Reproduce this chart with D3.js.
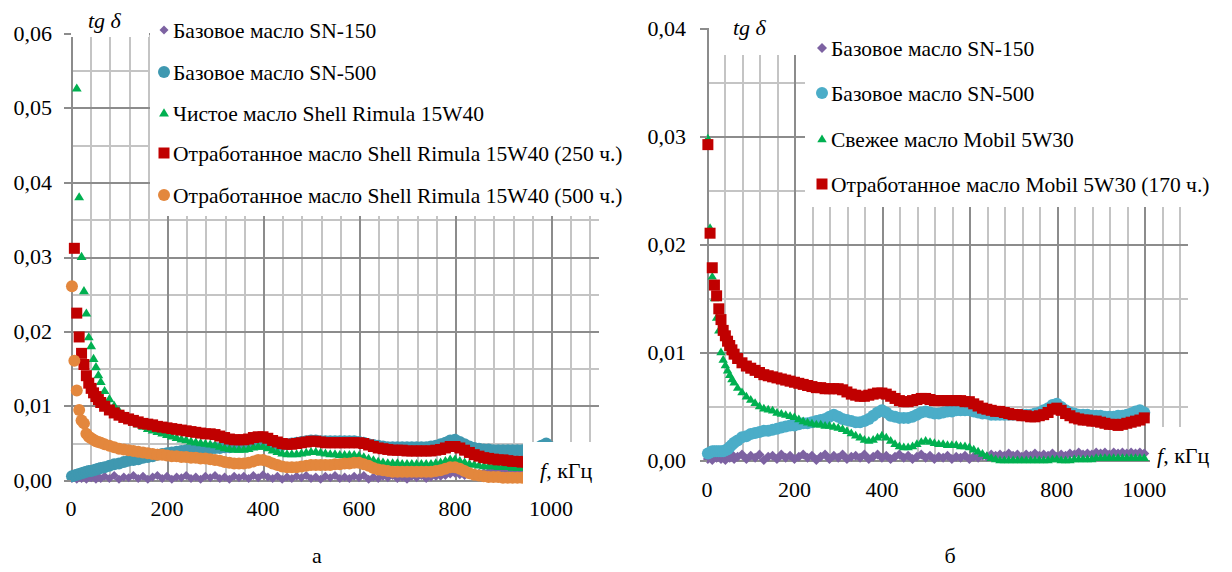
<!DOCTYPE html>
<html><head><meta charset="utf-8">
<script src="https://cdn.jsdelivr.net/npm/d3@7"></script>
<style>body{margin:0;background:#fff}svg{display:block}</style>
</head><body><svg id="c" width="1232" height="572" font-family="'Liberation Serif', Tinos, 'Times New Roman', serif"></svg>
<script>
// ---------- data ----------
const freqA = [2,7,12,17,22,27,32,37,42,47,52,57,62,
70,80,90,100,110,120,130,140,150,160,
170,180,190,200,210,220,230,240,250,260,
270,280,290,300,310,320,330,340,350,360,
370,380,390,400,410,420,430,440,450,460,
470,480,490,500,510,520,530,540,550,560,
570,580,590,600,610,620,630,640,650,660,
670,680,690,700,710,720,730,740,750,760,
770,780,790,800,810,820,830,840,850,860,
870,880,890,900,910,920,930,940,950,960,
970,980,990,1000];
const freqB = freqA.slice();

const namesA = ["Базовое масло SN-150","Базовое масло SN-500","Чистое масло Shell Rimula 15W40",
  "Отработанное масло Shell Rimula 15W40 (250 ч.)","Отработанное масло Shell Rimula 15W40 (500 ч.)"];
const namesB = ["Базовое масло SN-150","Базовое масло SN-500","Свежее масло Mobil 5W30",
  "Отработанное масло Mobil 5W30 (170 ч.)"];

const sn150A = [.0002,.0005,.0001,.0004,.0002,.0006,.0001,.0005,.0003,.0006,.0001,.0004,.0002,
.0005,.0002,.0006,.0001,.0004,.0003,.0006,.0002,.0005,.0001,
.0004,.0006,.0002,.0005,.0001,.0004,.0003,.0006,.0002,.0004,
.0001,.0005,.0003,.0006,.0002,.0004,.0001,.0005,.0003,.0005,
.0002,.0006,.0003,.0007,.0004,.0002,.0005,.0001,.0004,.0002,
.0005,.0003,.0006,.0002,.0004,.0001,.0005,.0003,.0006,.0002,
.0004,.0002,.0005,.0003,.0006,.0001,.0004,.0002,.0005,.0003,
.0006,.0002,.0004,.0001,.0005,.0003,.0006,.0002,.0004,.0005,
.0005,.0006,.0008,.0009,.0007,.0006,.0007,.0008,.0009,.0010,
.0011,.0012,.0013,.0012,.0014,.0013,.0012,.0013,.0012,.0013,
.0012,.0013,.0012,.0013];
const sn500A = [.0005,.0006,.0007,.0008,.0009,.0010,.0011,.0012,.0012,.0013,.0014,.0015,.0016,
.0017,.0019,.0021,.0022,.0024,.0026,.0027,.0028,.0030,.0031,
.0032,.0034,.0035,.0036,.0037,.0038,.0039,.0040,.0040,.0041,
.0041,.0042,.0042,.0043,.0043,.0044,.0044,.0045,.0045,.0046,
.0047,.0048,.0049,.0049,.0048,.0047,.0047,.0047,.0048,.0049,
.0050,.0051,.0052,.0053,.0053,.0052,.0052,.0052,.0052,.0052,
.0052,.0052,.0052,.0051,.0050,.0048,.0047,.0046,.0045,.0044,
.0044,.0044,.0044,.0044,.0044,.0044,.0044,.0044,.0045,.0046,
.0048,.0050,.0053,.0054,.0051,.0048,.0045,.0043,.0042,.0041,
.0041,.0040,.0040,.0040,.0040,.0040,.0040,.0040,.0040,.0041,
.0043,.0046,.0049,.0044];
const shellA = [null,null,.0526,.0380,.0300,.0254,.0224,.0192,.0180,.0163,.0152,.0141,.0132,
.0120,.0109,.0100,.0093,.0087,.0082,.0078,.0075,.0072,.0069,
.0067,.0065,.0063,.0061,.0059,.0057,.0055,.0054,.0052,.0051,
.0050,.0049,.0048,.0047,.0045,.0043,.0042,.0041,.0041,.0041,
.0042,.0044,.0045,.0045,.0043,.0040,.0038,.0036,.0035,.0035,
.0035,.0036,.0037,.0038,.0038,.0037,.0036,.0035,.0035,.0034,
.0034,.0034,.0034,.0033,.0031,.0029,.0027,.0025,.0024,.0023,
.0023,.0023,.0022,.0022,.0022,.0022,.0022,.0022,.0022,.0023,
.0024,.0026,.0028,.0028,.0026,.0024,.0022,.0021,.0020,.0019,
.0019,.0019,.0018,.0018,.0018,.0017,.0017,.0017,.0017,.0017,
.0017,.0017,.0017,.0017];
const used250A = [null,.0311,.0224,.0192,.0170,.0155,.0140,.0130,.0123,.0117,.0112,.0108,.0104,
.0099,.0094,.0090,.0087,.0084,.0082,.0080,.0078,.0076,.0075,
.0074,.0072,.0071,.0070,.0069,.0068,.0067,.0066,.0065,.0064,
.0063,.0062,.0062,.0061,.0059,.0057,.0055,.0054,.0054,.0054,
.0055,.0057,.0058,.0058,.0056,.0053,.0051,.0049,.0048,.0048,
.0049,.0050,.0051,.0052,.0052,.0051,.0050,.0050,.0050,.0050,
.0050,.0050,.0050,.0050,.0049,.0047,.0045,.0043,.0042,.0041,
.0040,.0040,.0040,.0039,.0039,.0039,.0039,.0039,.0039,.0040,
.0041,.0043,.0045,.0045,.0043,.0040,.0037,.0034,.0032,.0030,
.0029,.0028,.0027,.0027,.0026,.0025,.0025,.0024,.0024,.0024,
.0024,.0024,.0024,.0024];
const used500A = [.0260,.0160,.0120,.0094,.0080,.0076,.0062,.0058,.0056,.0054,.0052,.0051,.0050,
.0048,.0046,.0044,.0042,.0041,.0040,.0039,.0038,.0037,.0036,
.0035,.0034,.0034,.0033,.0032,.0032,.0031,.0031,.0030,.0030,
.0029,.0029,.0028,.0027,.0026,.0024,.0023,.0022,.0022,.0022,
.0023,.0025,.0027,.0027,.0025,.0022,.0020,.0018,.0017,.0017,
.0017,.0018,.0019,.0020,.0020,.0020,.0020,.0020,.0021,.0021,
.0022,.0022,.0023,.0023,.0021,.0019,.0016,.0014,.0013,.0012,
.0011,.0011,.0011,.0011,.0011,.0011,.0011,.0011,.0011,.0012,
.0013,.0015,.0017,.0017,.0015,.0012,.0009,.0007,.0006,.0005,
.0004,.0004,.0004,.0003,.0003,.0003,.0003,.0003,.0003,.0003,
.0003,.0003,.0003,.0003];

const sn150B = [.0001,.0003,.0000,.0004,.0002,.0005,.0001,.0003,.0000,.0004,.0002,.0005,.0001,
.0003,.0005,.0001,.0004,.0002,.0005,.0000,.0003,.0004,.0001,
.0005,.0002,.0004,.0001,.0003,.0005,.0002,.0004,.0000,.0003,
.0005,.0001,.0004,.0002,.0005,.0001,.0003,.0004,.0002,.0005,
.0001,.0003,.0005,.0002,.0004,.0001,.0003,.0005,.0002,.0004,
.0001,.0003,.0005,.0002,.0004,.0001,.0003,.0002,.0004,.0001,
.0003,.0002,.0004,.0001,.0003,.0002,.0004,.0003,.0005,.0004,
.0005,.0004,.0006,.0004,.0005,.0003,.0005,.0004,.0006,.0004,
.0005,.0004,.0006,.0003,.0005,.0004,.0006,.0005,.0007,.0005,
.0006,.0005,.0007,.0006,.0007,.0005,.0007,.0006,.0007,.0006,
.0007,.0006,.0007,.0006];
const sn500B = [.0006,.0007,.0008,.0008,.0008,.0008,.0008,.0008,.0009,.0010,.0012,.0014,.0016,
.0018,.0021,.0022,.0024,.0025,.0026,.0027,.0027,.0028,.0029,
.0030,.0031,.0032,.0032,.0033,.0034,.0034,.0035,.0036,.0037,
.0038,.0040,.0042,.0040,.0038,.0037,.0036,.0035,.0035,.0036,
.0038,.0041,.0044,.0046,.0044,.0041,.0040,.0039,.0039,.0039,
.0040,.0042,.0044,.0045,.0044,.0043,.0043,.0044,.0045,.0045,
.0046,.0046,.0046,.0046,.0045,.0044,.0043,.0043,.0042,.0042,
.0042,.0042,.0042,.0042,.0042,.0042,.0042,.0042,.0043,.0044,
.0046,.0048,.0051,.0052,.0049,.0046,.0044,.0043,.0042,.0042,
.0042,.0041,.0041,.0041,.0040,.0040,.0040,.0041,.0041,.0042,
.0043,.0045,.0046,.0044];
const mobilB = [.0298,.0215,.0170,.0150,.0132,.0120,.0100,.0093,.0088,.0083,.0079,.0075,.0072,
.0067,.0063,.0059,.0056,.0053,.0050,.0048,.0047,.0046,.0044,
.0043,.0042,.0041,.0040,.0038,.0036,.0035,.0034,.0033,.0033,
.0032,.0032,.0031,.0030,.0029,.0027,.0025,.0023,.0021,.0019,
.0018,.0019,.0021,.0023,.0021,.0018,.0015,.0013,.0012,.0012,
.0013,.0015,.0017,.0018,.0017,.0016,.0015,.0015,.0014,.0014,
.0014,.0013,.0013,.0012,.0010,.0008,.0006,.0004,.0002,.0001,
.0000,.0000,.0000,.0000,.0000,.0000,.0000,.0000,.0000,.0000,
.0000,.0000,.0001,.0001,.0000,.0000,.0000,.0001,.0001,.0001,
.0001,.0001,.0002,.0002,.0002,.0002,.0002,.0002,.0002,.0002,
.0002,.0002,.0002,.0002];
const used170B = [.0292,.0210,.0178,.0162,.0152,.0140,.0130,.0120,.0115,.0110,.0106,.0102,.0098,
.0094,.0090,.0087,.0085,.0083,.0081,.0079,.0078,.0077,.0076,
.0075,.0074,.0073,.0072,.0071,.0070,.0069,.0068,.0067,.0067,
.0066,.0066,.0066,.0066,.0065,.0063,.0061,.0060,.0059,.0059,
.0060,.0061,.0062,.0062,.0061,.0059,.0057,.0055,.0054,.0054,
.0055,.0056,.0057,.0057,.0056,.0055,.0055,.0055,.0055,.0055,
.0055,.0055,.0054,.0054,.0052,.0050,.0048,.0047,.0046,.0045,
.0045,.0044,.0043,.0042,.0042,.0041,.0041,.0040,.0040,.0041,
.0042,.0044,.0047,.0048,.0046,.0043,.0041,.0039,.0038,.0037,
.0037,.0036,.0036,.0035,.0034,.0033,.0033,.0032,.0033,.0034,
.0035,.0036,.0037,.0039];

const yTicksA = [0,0.01,0.02,0.03,0.04,0.05,0.06];
const yTicksB = [0,0.01,0.02,0.03,0.04];
const xTicks = [0,200,400,600,800,1000];

// ---------- drawing ----------
const svg = d3.select("#c");
const loc = d3.formatLocale({decimal:",",thousands:" ",grouping:[3],currency:["",""]});
const fmt = loc.format(".2f");

const C = {purple:"#7D62A2", tealA:"#3F98B0", tealB:"#4BADC8", green:"#00B050", red:"#C00000", orange:"#E3873D"};

function markerPath(type, s){
  if(type==="diamond") return `M0,${-s}L${s},0L0,${s}L${-s},0Z`;
  if(type==="triangle") return `M0,${-s*1.05}L${s*1.1},${s*0.75}L${-s*1.1},${s*0.75}Z`;
  if(type==="square") return `M${-s},${-s}H${s}V${s}H${-s}Z`;
  return d3.arc()({innerRadius:0,outerRadius:s,startAngle:0,endAngle:2*Math.PI});
}

function drawChart(o){
  const g = svg.append("g");
  const x = d3.scaleLinear().domain([0,1100]).range(o.xr);
  const y = d3.scaleLinear().domain([0,o.ymax]).range(o.yr);
  const minorX = d3.range(40,1100,40), majorX = xTicks.slice(1);
  const minorY = d3.range(0.005,o.ymax+1e-9,0.01), majorY = o.yTicks.slice(1);
  const grid = g.append("g").attr("shape-rendering","crispEdges");
  grid.selectAll(".mx").data(minorX).join("line")
    .attr("x1",d=>Math.round(x(d))+.5).attr("x2",d=>Math.round(x(d))+.5)
    .attr("y1",y(o.ymax)).attr("y2",y(0)).attr("stroke","#c4c4c4").attr("stroke-width",2);
  grid.selectAll(".my").data(minorY).join("line")
    .attr("y1",d=>Math.round(y(d))+.5).attr("y2",d=>Math.round(y(d))+.5)
    .attr("x1",x(0)).attr("x2",x(1100)).attr("stroke","#c4c4c4").attr("stroke-width",2);
  grid.selectAll(".Mx").data(majorX).join("line")
    .attr("x1",d=>Math.round(x(d))+.5).attr("x2",d=>Math.round(x(d))+.5)
    .attr("y1",y(o.ymax)).attr("y2",y(0)).attr("stroke","#8c8c8c").attr("stroke-width",2);
  grid.selectAll(".My").data(majorY).join("line")
    .attr("y1",d=>Math.round(y(d))+.5).attr("y2",d=>Math.round(y(d))+.5)
    .attr("x1",x(0)).attr("x2",x(1100)).attr("stroke","#8c8c8c").attr("stroke-width",2);
  grid.append("line").attr("x1",x(0)).attr("x2",x(1100)).attr("y1",Math.round(y(0))+.5).attr("y2",Math.round(y(0))+.5)
    .attr("stroke","#8c8c8c").attr("stroke-width",2);
  grid.append("line").attr("x1",Math.round(x(0))+.5).attr("x2",Math.round(x(0))+.5).attr("y1",y(o.ymax)).attr("y2",y(0))
    .attr("stroke","#8c8c8c").attr("stroke-width",2);

  o.series.forEach(s=>{
    const pts = s.values.map((v,i)=>({f:o.freq[i],v})).filter(p=>p.v!==null && p.f!==undefined);
    g.append("g").selectAll("path").data(pts).join("path")
      .attr("d",markerPath(s.shape,s.size))
      .attr("transform",p=>`translate(${x(p.f)},${y(p.v)})`)
      .attr("fill",s.color);
  });

  o.masks.forEach(m=>g.append("rect").attr("x",m[0]).attr("y",m[1]).attr("width",m[2]).attr("height",m[3]).attr("fill","#fff"));

  g.append("g").attr("shape-rendering","crispEdges").selectAll("line").data(o.yTicks).join("line")
    .attr("x1",x(0)-7).attr("x2",x(0)).attr("y1",d=>Math.round(y(d))+.5).attr("y2",d=>Math.round(y(d))+.5)
    .attr("stroke","#8c8c8c").attr("stroke-width",2);
  g.append("g").selectAll("text").data(o.yTicks).join("text")
    .attr("x",o.yLabX).attr("y",d=>y(d)+7.5).attr("text-anchor","end").attr("font-size",22).text(d=>fmt(d));
  g.append("g").selectAll("text").data(xTicks).join("text")
    .attr("x",d=>x(d)).attr("y",o.xLabY).attr("text-anchor","middle").attr("font-size",22).text(d=>d);

  g.append("text").attr("x",o.tg[0]).attr("y",o.tg[1]).attr("font-size",22).attr("font-style","italic").text("tg δ");
  const ft = g.append("text").attr("x",o.fl[0]).attr("y",o.fl[1]).attr("font-size",22);
  ft.append("tspan").attr("font-style","italic").text("f");
  ft.append("tspan").text(", кГц");

  const lg = g.append("g");
  o.series.forEach((s,i)=>{
    const cy = o.legY[i];
    lg.append("path").attr("d",markerPath(s.shape,s.lsize)).attr("transform",`translate(${o.legX},${cy})`).attr("fill",s.color);
    lg.append("text").attr("x",o.legX+9).attr("y",cy+8).attr("font-size",21.5).text(s.name);
  });
  g.append("text").attr("x",o.letter[0]).attr("y",o.letter[1]).attr("text-anchor","middle").attr("font-size",22).text(o.letter[2]);
}

drawChart({
  xr:[71,599], yr:[480,33], ymax:0.06, yTicks:yTicksA, freq:freqA,
  series:[
    {name:namesA[0],values:sn150A,color:C.purple,shape:"diamond",size:4.5,lsize:4.5},
    {name:namesA[1],values:sn500A,color:C.tealA,shape:"circle",size:6,lsize:6},
    {name:namesA[2],values:shellA,color:C.green,shape:"triangle",size:4.5,lsize:4.5},
    {name:namesA[3],values:used250A,color:C.red,shape:"square",size:5.5,lsize:5.5},
    {name:namesA[4],values:used500A,color:C.orange,shape:"circle",size:6,lsize:6}
  ],
  masks:[[150,0,470,216],[70,0,79,37],[523,442,100,48]],
  yLabX:52, xLabY:516, tg:[88,28], fl:[540,478], legX:164, legY:[30,72,113,153,195],
  letter:[317,563,"а"]
});
drawChart({
  xr:[707,1188], yr:[460,28], ymax:0.04, yTicks:yTicksB, freq:freqB,
  series:[
    {name:namesB[0],values:sn150B,color:C.purple,shape:"diamond",size:5,lsize:5},
    {name:namesB[1],values:sn500B,color:C.tealB,shape:"circle",size:6,lsize:6},
    {name:namesB[2],values:mobilB,color:C.green,shape:"triangle",size:4.3,lsize:4.3},
    {name:namesB[3],values:used170B,color:C.red,shape:"square",size:5.5,lsize:5.5}
  ],
  masks:[[805,0,427,207],[709,0,96,55],[1150,427,82,48]],
  yLabX:686, xLabY:497, tg:[733,35], fl:[1157,463], legX:822, legY:[48,93,139,184],
  letter:[950,563,"б"]
});
</script></body></html>
